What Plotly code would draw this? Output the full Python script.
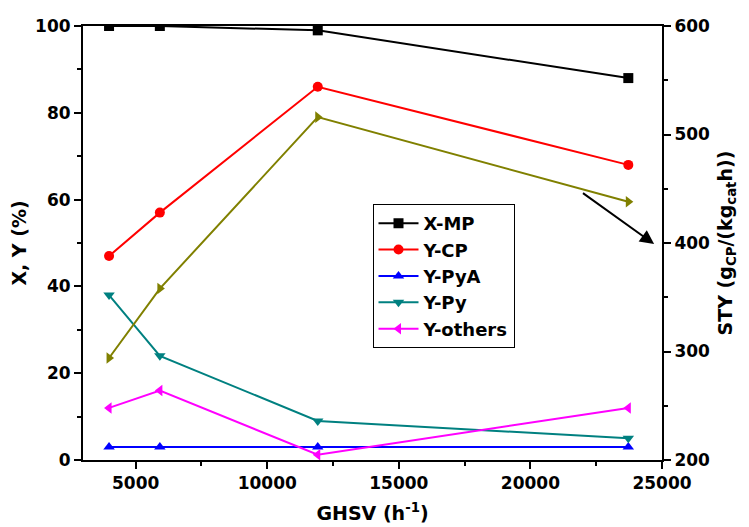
import plotly.graph_objects as go

ghsv = [3990, 5920, 11920, 23720]
x_mp = [100, 100, 99, 88]
y_cp = [47, 57, 86, 68]
y_pya = [3, 3, 3, 3]
y_py = [38, 24, 9, 5]
y_others = [12, 16, 1.2, 12]
sty = [294, 358, 516, 438]
x_ticks = [5000, 10000, 15000, 20000, 25000]

FONT = "DejaVu Sans, sans-serif"

fig = go.Figure()

def add(y, name, color, symbol, yaxis="y", show=True):
    fig.add_trace(go.Scatter(
        x=ghsv, y=y, name=name, mode="lines+markers", yaxis=yaxis,
        line=dict(color=color, width=2),
        marker=dict(symbol=symbol, size=10, color=color),
        showlegend=show,
    ))

add(x_mp, "X-MP", "black", "square")
add(y_cp, "Y-CP", "#ff0000", "circle")
add(y_pya, "Y-PyA", "#0000ff", "triangle-up")
add(y_py, "Y-Py", "#008080", "triangle-down")
add(y_others, "Y-others", "#ff00ff", "triangle-left")
add(sty, "STY", "#808000", "triangle-right", yaxis="y2", show=False)

tickfont = dict(family=FONT, size=17, color="black", weight="bold")
titlefont = dict(family=FONT, size=19, color="black", weight="bold")

fig.update_layout(
    width=741, height=519,
    margin=dict(l=75, r=87, t=18, b=67),
    paper_bgcolor="white", plot_bgcolor="white",
    font=dict(family=FONT, color="black"),
    xaxis=dict(
        range=[3000, 25000], tickvals=x_ticks, ticktext=[str(v) for v in x_ticks],
        ticks="outside", ticklen=7, tickwidth=1.5, tickcolor="black",
        minor=dict(dtick=2500, tick0=0, ticks="outside", ticklen=4, tickcolor="black", tickwidth=1.5),
        showline=True, linecolor="black", linewidth=2, mirror=True,
        showgrid=False, zeroline=False, automargin=False,
        tickfont=tickfont,
        title=dict(text="GHSV (h<sup>-1</sup>)", font=titlefont, standoff=14),
    ),
    yaxis=dict(
        range=[0, 100], dtick=20,
        ticks="outside", ticklen=7, tickwidth=1.5, tickcolor="black",
        minor=dict(dtick=10, ticks="outside", ticklen=4, tickcolor="black", tickwidth=1.5),
        showline=True, linecolor="black", linewidth=2,
        showgrid=False, zeroline=False, automargin=False,
        tickfont=tickfont,
        title=dict(text="X, Y (%)", font=titlefont, standoff=4),
    ),
    yaxis2=dict(
        range=[200, 600], dtick=100, overlaying="y", side="right",
        ticks="outside", ticklen=7, tickwidth=1.5, tickcolor="black",
        minor=dict(dtick=50, ticks="outside", ticklen=4, tickcolor="black", tickwidth=1.5),
        showline=True, linecolor="black", linewidth=2,
        showgrid=False, zeroline=False, automargin=False,
        tickfont=tickfont,
        title=dict(text="STY (g<sub>CP</sub>/(kg<sub>cat</sub>h))", font=titlefont, standoff=10),
    ),
    legend=dict(
        x=0.50, y=0.59, xanchor="left", yanchor="top",
        bordercolor="black", borderwidth=1, bgcolor="white",
        font=dict(family=FONT, size=18, color="black", weight="bold"),
        tracegroupgap=0, itemwidth=40,
    ),
)

fig.add_annotation(
    x=24700, y=399, ax=21940, ay=447, xref="x", yref="y2", axref="x", ayref="y2",
    showarrow=True, arrowhead=2, arrowsize=1.4, arrowwidth=2, arrowcolor="black", text="",
)

fig.write_html("out.html")
